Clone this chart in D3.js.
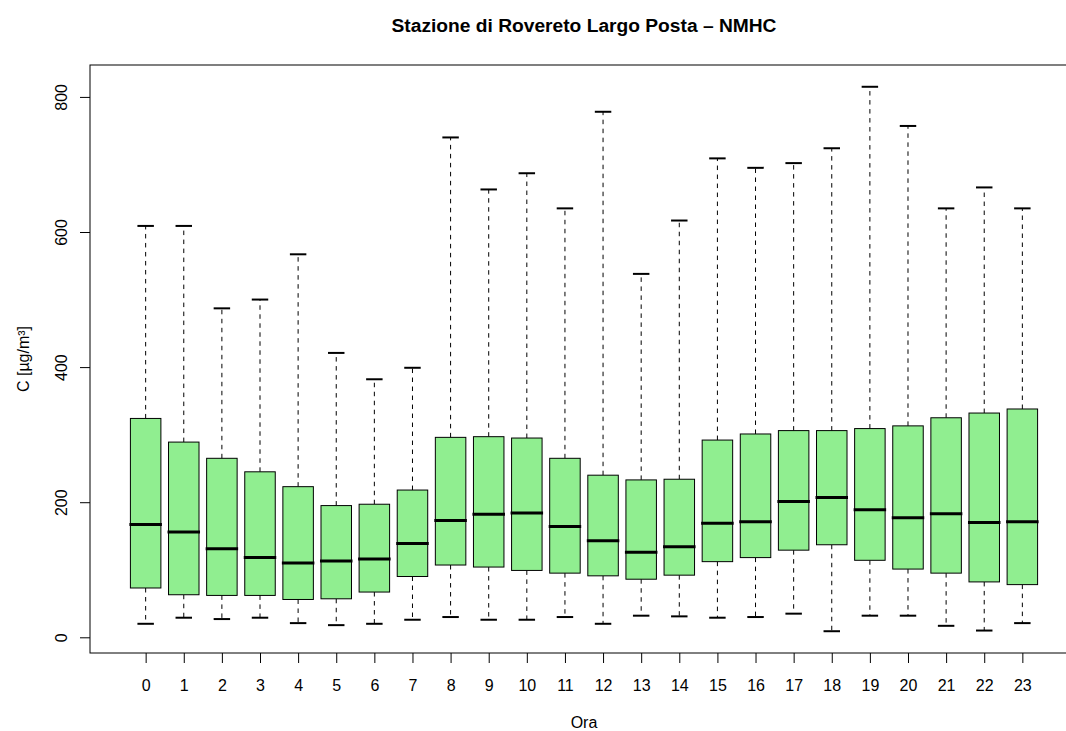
<!DOCTYPE html>
<html>
<head>
<meta charset="utf-8">
<script src="https://cdn.jsdelivr.net/npm/d3@7"></script>
<style>
    body { margin: 0; background: #fff; }
    svg { display: block; font-family: "Liberation Sans", Arial, sans-serif; }
</style>
</head>
<body>
<div id="chart"></div>
<script>
'use strict';

// Data
const hours = ['0', '1', '2', '3', '4', '5', '6', '7', '8', '9', '10', '11',
    '12', '13', '14', '15', '16', '17', '18', '19', '20', '21', '22', '23'];
const whiskerLow = [20, 29, 27, 29, 21, 18, 20, 26, 30, 26, 26, 30,
    20, 32, 31, 29, 30, 35, 9, 32, 32, 17, 10, 21];
const q1 = [73, 63, 62, 62, 56, 57, 67, 90, 107, 104, 99, 95,
    91, 86, 92, 112, 118, 129, 137, 114, 101, 95, 82, 78];
const medians = [167, 156, 131, 118, 110, 113, 116, 139, 173, 182, 184, 164,
    143, 126, 134, 169, 171, 201, 207, 189, 177, 183, 170, 171];
const q3 = [324, 289, 265, 245, 223, 195, 197, 218, 296, 297, 295, 265,
    240, 233, 234, 292, 301, 306, 306, 309, 313, 325, 332, 338];
const whiskerHigh = [609, 609, 487, 500, 567, 421, 382, 399, 740, 663, 687, 635,
    778, 538, 617, 709, 695, 702, 724, 815, 757, 635, 666, 635];
const yTicks = [0, 200, 400, 600, 800];

const title = 'Stazione di Rovereto Largo Posta \u2013 NMHC';
const xTitle = 'Ora';
const yTitle = 'C [\u00b5g/m\u00b3]';

class BoxPlot {

    // Configs
    w = 1066;
    h = 731;

    constructor(_ref) {
        this.parent = _ref;
        this.data = hours.map((h, i) => ({
            hour: h,
            pos: i + 1,
            lo: whiskerLow[i],
            q1: q1[i],
            med: medians[i],
            q3: q3[i],
            hi: whiskerHigh[i]
        }));
        this.initVis();
    }

    initVis() {
        const vis = this;

        vis.svg = d3.select(`#${vis.parent}`)
            .append('svg')
            .attr('width', vis.w)
            .attr('height', vis.h);

        // Plot region (right edge runs off the canvas like the original)
        vis.plot = {left: 90, top: 65, width: 988, height: 588};

        // x: positions 1..n, range +-0.5, then 4% each side
        const n = vis.data.length;
        const xr = [0.5, n + 0.5];
        const xPad = (xr[1] - xr[0]) * 0.04;
        vis.x = d3.scaleLinear()
            .domain([xr[0] - xPad, xr[1] + xPad])
            .range([vis.plot.left, vis.plot.left + vis.plot.width]);

        // y: data range, 4% each side
        const yr = [d3.min(whiskerLow), d3.max(whiskerHigh)];
        const yPad = (yr[1] - yr[0]) * 0.04;
        vis.y = d3.scaleLinear()
            .domain([yr[0] - yPad, yr[1] + yPad])
            .range([vis.plot.top + vis.plot.height, vis.plot.top]);

        vis.unit = vis.x(2) - vis.x(1);
        vis.boxW = vis.unit * 0.8;
        vis.capW = vis.boxW * 0.54;

        vis.drawBoxes();
        vis.drawAxes();
    }

    drawBoxes() {
        const vis = this;

        const g = vis.svg.append('g')
            .attr('class', 'boxes')
            .selectAll('g')
            .data(vis.data)
            .join('g');

        // Whiskers
        g.append('line')
            .attr('x1', d => vis.x(d.pos))
            .attr('x2', d => vis.x(d.pos))
            .attr('y1', d => vis.y(d.q3))
            .attr('y2', d => vis.y(d.hi))
            .attr('stroke', '#000')
            .attr('stroke-dasharray', '4.5,4.5');
        g.append('line')
            .attr('x1', d => vis.x(d.pos))
            .attr('x2', d => vis.x(d.pos))
            .attr('y1', d => vis.y(d.q1))
            .attr('y2', d => vis.y(d.lo))
            .attr('stroke', '#000')
            .attr('stroke-dasharray', '4.5,4.5');

        // Staples
        ['hi', 'lo'].forEach(k => {
            g.append('line')
                .attr('x1', d => vis.x(d.pos) - vis.capW / 2)
                .attr('x2', d => vis.x(d.pos) + vis.capW / 2)
                .attr('y1', d => vis.y(d[k]))
                .attr('y2', d => vis.y(d[k]))
                .attr('stroke', '#000')
                .attr('stroke-width', 2);
        });

        // Boxes
        g.append('rect')
            .attr('x', d => vis.x(d.pos) - vis.boxW / 2)
            .attr('y', d => vis.y(d.q3))
            .attr('width', vis.boxW)
            .attr('height', d => vis.y(d.q1) - vis.y(d.q3))
            .attr('fill', '#90ee90')
            .attr('stroke', '#000')
            .attr('stroke-width', 1);

        // Medians
        g.append('line')
            .attr('x1', d => vis.x(d.pos) - vis.boxW / 2 - 1)
            .attr('x2', d => vis.x(d.pos) + vis.boxW / 2 + 1)
            .attr('y1', d => vis.y(d.med))
            .attr('y2', d => vis.y(d.med))
            .attr('stroke', '#000')
            .attr('stroke-width', 3);
    }

    drawAxes() {
        const vis = this;
        const p = vis.plot;

        // Frame
        vis.svg.append('rect')
            .attr('x', p.left)
            .attr('y', p.top)
            .attr('width', p.width)
            .attr('height', p.height)
            .attr('fill', 'none')
            .attr('stroke', '#000');

        // x axis
        const xAxis = d3.axisBottom(vis.x)
            .tickValues(vis.data.map(d => d.pos))
            .tickFormat((d, i) => hours[i])
            .tickSize(10)
            .tickSizeOuter(0);
        const xg = vis.svg.append('g')
            .attr('transform', `translate(0,${p.top + p.height})`)
            .call(xAxis);
        xg.select('.domain').remove();
        xg.selectAll('.tick line').attr('stroke', '#000');
        xg.selectAll('.tick text')
            .attr('y', 37.5)
            .attr('dy', 0)
            .attr('fill', '#000')
            .style('font-size', '16px')
            .style('font-family', '"Liberation Sans", Arial, sans-serif');

        // y axis
        const yAxis = d3.axisLeft(vis.y)
            .tickValues(yTicks)
            .tickSize(10)
            .tickSizeOuter(0);
        const yg = vis.svg.append('g')
            .attr('transform', `translate(${p.left},0)`)
            .call(yAxis);
        yg.select('.domain').remove();
        yg.selectAll('.tick line').attr('stroke', '#000');
        yg.selectAll('.tick text')
            .attr('transform', 'rotate(-90)')
            .attr('x', 0)
            .attr('y', -23.5)
            .attr('dy', 0)
            .attr('text-anchor', 'middle')
            .attr('fill', '#000')
            .style('font-size', '16px')
            .style('font-family', '"Liberation Sans", Arial, sans-serif');

        // Titles
        vis.svg.append('text')
            .attr('x', p.left + (vis.x(hours.length + 0.5) - p.left) / 2 + (vis.x(0.5) - p.left) / 2)
            .attr('y', 31.5)
            .attr('text-anchor', 'middle')
            .style('font-size', '19.2px')
            .style('font-weight', 'bold')
            .text(title);

        vis.svg.append('text')
            .attr('x', p.left + p.width / 2)
            .attr('y', 728)
            .attr('text-anchor', 'middle')
            .style('font-size', '16px')
            .text(xTitle);

        vis.svg.append('text')
            .attr('transform', `translate(29,${p.top + p.height / 2}) rotate(-90)`)
            .attr('text-anchor', 'middle')
            .style('font-size', '16px')
            .text(yTitle);
    }
}

new BoxPlot('chart');
</script>
</body>
</html>
